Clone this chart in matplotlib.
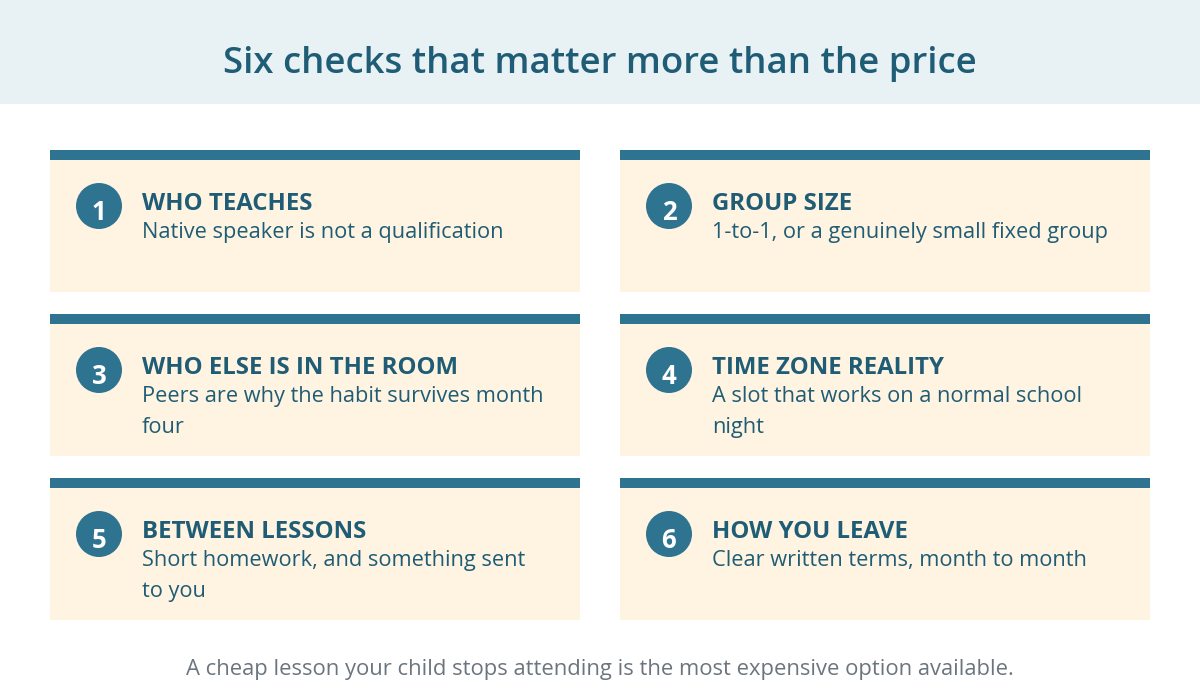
import matplotlib
matplotlib.use('Agg')
import matplotlib.pyplot as plt
from matplotlib.patches import Rectangle, Circle

TITLE = 'Six checks that matter more than the price'
FOOTER = 'A cheap lesson your child stops attending is the most expensive option available.'
numbers = ['1', '2', '3', '4', '5', '6']
heads = ['WHO TEACHES', 'GROUP SIZE', 'WHO ELSE IS IN THE ROOM',
         'TIME ZONE REALITY', 'BETWEEN LESSONS', 'HOW YOU LEAVE']
bodies = ['Native speaker is not a qualification',
          '1-to-1, or a genuinely small fixed group',
          'Peers are why the habit survives month\nfour',
          'A slot that works on a normal school\nnight',
          'Short homework, and something sent\nto you',
          'Clear written terms, month to month']

DARK = '#1f5c75'
BLUE = '#2e7491'
CREAM = '#fff4e1'
BAND = '#e8f2f4'
GREY = '#6c757d'

plt.rcParams['font.family'] = ['Open Sans', 'DejaVu Sans']

fig = plt.figure(figsize=(12, 7), dpi=100)
ax = fig.add_axes([0, 0, 1, 1])
ax.set_xlim(0, 1200)
ax.set_ylim(700, 0)
ax.axis('off')

# header band
ax.add_patch(Rectangle((0, 0), 1200, 104, color=BAND, lw=0))
ax.text(600, 64, TITLE, ha='center', va='center', fontsize=26.3, color=DARK, fontweight='semibold')

# cards
for i in range(6):
    x = 50 + 570 * (i % 2)
    y = 150 + 164 * (i // 2)
    ax.add_patch(Rectangle((x, y), 530, 142, color=CREAM, lw=0))
    ax.add_patch(Rectangle((x, y), 530, 10, color=BLUE, lw=0))
    ax.add_patch(Circle((x + 49, y + 56), 23, color=BLUE, lw=0))
    ax.text(x + 49, y + 62.5, numbers[i], ha='center', va='center', fontsize=18.5, color='white', fontweight='bold')
    ax.text(x + 92, y + 53.5, heads[i], ha='left', va='center', fontsize=17.3, color=DARK, fontweight='bold')
    ax.text(x + 92, y + 72, bodies[i], ha='left', va='top', fontsize=15.7, color=DARK, linespacing=1.64)

ax.text(600, 669, FOOTER, ha='center', va='center', fontsize=15.8, color=GREY)

fig.savefig('out.png', dpi=100)
